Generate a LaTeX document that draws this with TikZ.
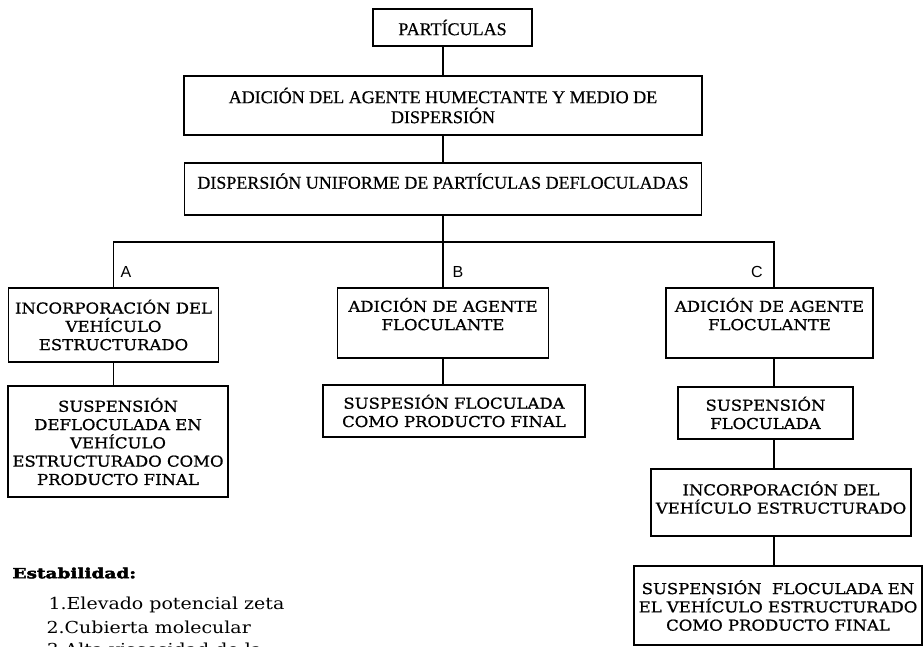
\documentclass[tikz,border=0pt]{standalone}
\usepackage{fontspec}
\setmainfont[FakeBold=0.6]{Liberation Serif}
\newfontfamily\cajafont[FakeStretch=1.1,FakeBold=0.9]{DejaVu Serif}
\newfontfamily\listafont[FakeStretch=1.15]{DejaVu Serif}
\newfontfamily\estabfont[FakeStretch=1.32,FakeBold=3]{DejaVu Serif Bold}
\newfontfamily\letrafont{Liberation Sans}
\usetikzlibrary{positioning}

\begin{document}
\begin{tikzpicture}[x=1pt, y=-1pt]
        \tikzstyle{cabeza} = [rectangle, draw, line width=1.9pt, align=center, inner sep=0pt, font=\fontsize{18}{20}\selectfont]
        \tikzstyle{caja} = [rectangle, draw, line width=1.9pt, align=center, inner sep=0pt, font=\cajafont\fontsize{15}{18.3}\selectfont]
        \tikzstyle{linea} = [line width=1.9pt]
        \tikzstyle{rama} = [font=\letrafont\fontsize{16}{18}\selectfont]
        \tikzstyle{lista} = [anchor=west, font=\listafont\fontsize{16.5}{20}\selectfont]
        \useasboundingbox (0,0) rectangle (924,647);
        % tronco
        \node[cabeza, minimum width=159pt, minimum height=37pt] (part) at (452.5,27.5) {PARTÍCULAS};
        \node[cabeza, minimum width=518pt, minimum height=59pt] (adic) at (443,105.5) {ADICIÓN DEL AGENTE HUMECTANTE Y MEDIO DE\\DISPERSIÓN};
        \node[cabeza, minimum width=517pt, minimum height=52pt, text depth=16pt] (disp) at (443,189) {DISPERSIÓN UNIFORME DE PARTÍCULAS DEFLOCULADAS};
        % ramas
        \node[caja, minimum width=210pt, minimum height=74pt] (a1) at (113.5,325) {INCORPORACIÓN DEL\\VEHÍCULO\\ESTRUCTURADO};
        \node[caja, minimum width=220pt, minimum height=111pt] (a2) at (118,441.5) {SUSPENSIÓN\\DEFLOCULADA EN\\VEHÍCULO\\ESTRUCTURADO COMO\\PRODUCTO FINAL};
        \node[caja, minimum width=211pt, minimum height=70pt, text depth=18pt] (b1) at (443,323) {ADICIÓN DE AGENTE\\FLOCULANTE};
        \node[caja, minimum width=262pt, minimum height=52pt] (b2) at (454,411) {SUSPESIÓN FLOCULADA\\COMO PRODUCTO FINAL};
        \node[caja, minimum width=207pt, minimum height=70pt, text depth=18pt] (c1) at (769.5,323) {ADICIÓN DE AGENTE\\FLOCULANTE};
        \node[caja, minimum width=175pt, minimum height=52pt] (c2) at (765.5,413) {SUSPENSIÓN\\FLOCULADA};
        \node[caja, minimum width=260pt, minimum height=67pt, text depth=10pt] (c3) at (781,502.5) {INCORPORACIÓN DEL\\VEHÍCULO ESTRUCTURADO};
        \node[caja, minimum width=288pt, minimum height=79pt] (c4) at (778,605.5) {SUSPENSIÓN\ \ FLOCULADA EN\\EL VEHÍCULO ESTRUCTURADO\\COMO PRODUCTO FINAL};
        \coordinate (ramal) at (443,242);
        \coordinate (ramalc) at (774,242);
        \node[rama] (la) at (126,272) {A};
        \node[rama] (lb) at (458,272) {B};
        \node[rama] (lc) at (757,272) {C};
        \draw[linea] (adic.north |- part.south) -- (adic.north);
        \draw[linea] (adic.south) -- (disp.north);
        \draw[linea] (disp.south) -- (b1.north);
        \draw[linea] (a1.north) -- (a1.north |- ramal) -- (ramalc) -- (ramalc |- c1.north);
        \draw[linea] (a1.south) -- (a1.south |- a2.north);
        \draw[linea] (b1.south) -- (b1.south |- b2.north);
        \draw[linea] (ramalc |- c1.south) -- (ramalc |- c2.north);
        \draw[linea] (ramalc |- c2.south) -- (ramalc |- c3.north);
        \draw[linea] (ramalc |- c3.south) -- (ramalc |- c4.north);
        % estabilidad
        \node[anchor=west, font=\estabfont\fontsize{14}{16}\selectfont] (estab) at (9,573) {Estabilidad:};
        \node[lista] (e1) at (45,605) {1.Elevado potencial zeta};
        \node[lista] (e2) at (43,627) {2.Cubierta molecular};
        \node[lista] (e3) at (43,649) {3.Alta viscosidad de la};
\end{tikzpicture}
\end{document}
